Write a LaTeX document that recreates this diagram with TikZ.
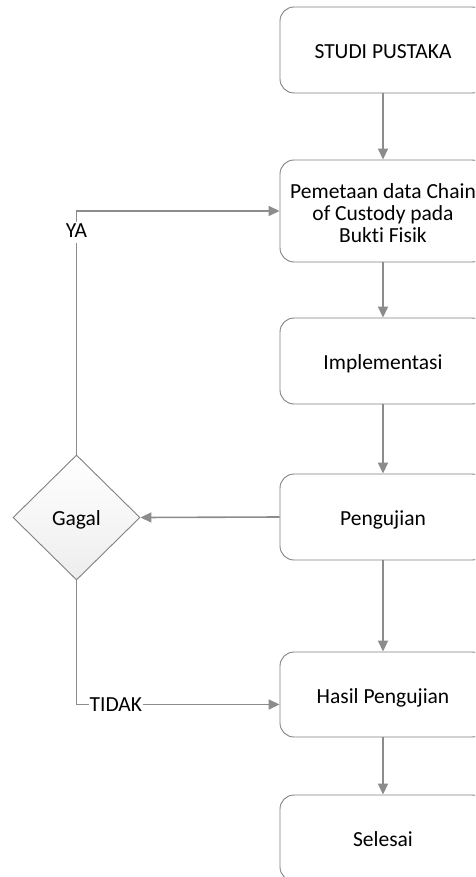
\documentclass[tikz,border=0pt]{standalone}
\usepackage{fontspec}
\setmainfont{Carlito}[Ligatures={NoCommon}]
\usetikzlibrary{shapes.geometric,arrows.meta}
\definecolor{edgegray}{RGB}{128,128,128}
\definecolor{linkgray}{RGB}{140,140,140}
\tikzset{
  stepbox/.style={draw=edgegray, line width=0.9pt, rounded corners=14pt,
    minimum width=206pt, inner sep=2pt, align=center, fill=white,
    font=\fontsize{21.5}{22}\selectfont},
  oneline/.style={text height=19pt, text depth=2pt},
  decision/.style={diamond, draw=edgegray, line width=0.9pt, inner sep=0pt,
    minimum width=127pt, minimum height=125pt, top color=white, bottom color=gray!14,
    font=\fontsize{21.5}{22}\selectfont, text height=18pt, text depth=3pt},
  link/.style={draw=linkgray, line width=1.6pt,
    -{Triangle[length=11pt,width=10pt]}},
  tag/.style={fill=white, inner sep=0.5pt, text height=15pt, text depth=5pt,
    font=\fontsize{21.5}{22}\selectfont}
}
\begin{document}
\begin{tikzpicture}[x=1pt,y=-1pt]
  \clip (0,0) rectangle (475,877);
  \useasboundingbox (0,0) rectangle (475,877);

  % process column
  \node[stepbox, oneline, minimum height=86pt] (studi) at (383,50) {STUDI PUSTAKA};
  \node[stepbox, minimum height=102pt, text height=64pt, text depth=0pt] (peta) at (383,211)
    {Pemetaan data Chain\\of Custody pada\\Bukti Fisik};
  \node[stepbox, oneline, minimum height=86pt] (impl)    at (383,361)   {Implementasi};
  \node[stepbox, oneline, minimum height=86pt] (uji)     at (383,517)   {Pengujian};
  \node[stepbox, oneline, minimum height=85pt] (hasil)   at (383,694.5) {Hasil Pengujian};
  \node[stepbox, oneline, minimum height=86pt] (selesai) at (383,838)   {Selesai};

  % decision
  \node[decision] (gagal) at (76.5,517.5) {Gagal};

  % main flow
  \draw[link] (studi) -- (peta);
  \draw[link] (peta) -- (impl);
  \draw[link] (impl) -- (uji);
  \draw[link] (uji) -- (hasil);
  \draw[link] (hasil) -- (selesai);
  \draw[link] (uji.west) -- (gagal.east);

  % decision branches
  \draw[link] (gagal.north) |- (peta.west) node[tag, pos=0.455] {YA};
  \draw[link] (gagal.south) |- ([yshift=-10pt]hasil.west) node[tag, pos=0.597, yshift=-2pt] {TIDAK};
\end{tikzpicture}
\end{document}
